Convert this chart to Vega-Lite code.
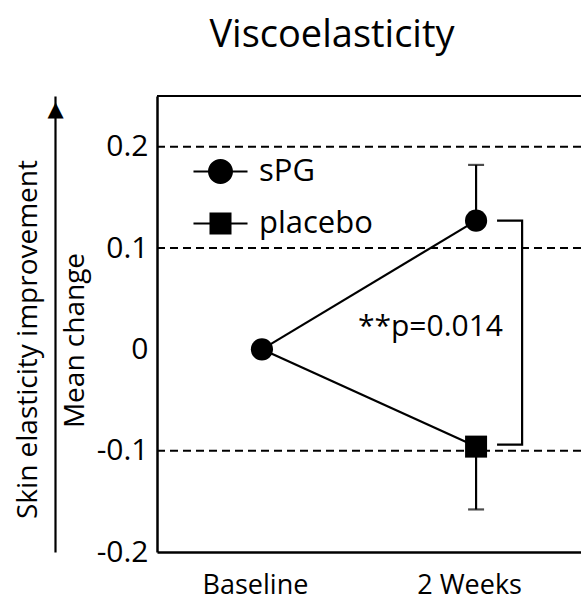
{
  "$schema": "https://vega.github.io/schema/vega-lite/v6.json",
  "width": 424,
  "height": 456,
  "autosize": {"type": "none"},
  "padding": {"left": 157, "top": 96, "right": 0, "bottom": 50},
  "config": {
    "view": {"stroke": null},
    "font": "Open Sans",
    "text": {"font": "Open Sans"}
  },
  "title": {
    "text": "Viscoelasticity",
    "font": "Open Sans",
    "fontSize": 38,
    "fontWeight": "normal",
    "color": "black",
    "anchor": "middle",
    "frame": "group",
    "baseline": "alphabetic",
    "offset": 8,
    "dx": -37
  },
  "resolve": {"scale": {"y": "independent"}, "axis": {"y": "independent"}},
  "layer": [
    {
      "data": {"values": [
        {"time": 0, "group": "sPG", "value": 0},
        {"time": 1, "group": "sPG", "value": 0.127, "err": 0.182},
        {"time": 0, "group": "placebo", "value": 0},
        {"time": 1, "group": "placebo", "value": -0.096, "err": -0.158}
      ]},
      "encoding": {
        "x": {
          "type": "quantitative",
          "scale": {"domain": [-0.49, 1.49], "nice": false, "zero": false},
          "axis": {
            "title": null,
            "values": [0, 1],
            "labelExpr": "datum.value == 0 ? 'Baseline' : '2 Weeks'",
            "labelFont": "Open Sans", "labelFontSize": 27, "labelColor": "black",
            "labelPadding": 41, "labelBaseline": "alphabetic", "labelOffset": -7, "labelFlush": false,
            "ticks": false, "tickSize": 0, "grid": false,
            "domain": true, "domainColor": "black", "domainWidth": 2.5
          }
        },
        "y": {
          "type": "quantitative",
          "scale": {"domain": [-0.2, 0.25], "nice": false, "zero": false},
          "axis": {
            "title": "Mean change",
            "titleFont": "Open Sans", "titleFontSize": 28, "titleFontWeight": "normal", "titleColor": "black",
            "titleAngle": 270, "titleAlign": "center", "titleBaseline": "middle",
            "titleX": -82, "titleY": 244,
            "values": [-0.2, -0.1, 0, 0.1, 0.2],
            "labelExpr": "datum.value == 0 ? '0' : (datum.value < 0 ? '-' : '') + format(abs(datum.value), '.1f')",
            "labelFont": "Open Sans", "labelFontSize": 30, "labelColor": "black",
            "labelPadding": 9, "labelBaseline": "middle", "labelFlush": false,
            "ticks": false, "tickSize": 0, "grid": false,
            "domain": true, "domainColor": "black", "domainWidth": 2.5,
            "orient": "left"
          }
        }
      },
      "layer": [
        {
          "data": {"values": [
            {"y": 0.2, "kind": "grid"},
            {"y": 0.1, "kind": "grid"},
            {"y": -0.1, "kind": "grid"},
            {"y": 0.25, "kind": "frame"}
          ]},
          "mark": {"type": "rule", "color": "black", "strokeWidth": 2},
          "encoding": {
            "x": null,
            "y": {"field": "y"},
            "strokeDash": {
              "field": "kind", "type": "nominal",
              "scale": {"domain": ["grid", "frame"], "range": [[8, 5], [1, 0]]},
              "legend": null
            }
          }
        },
        {
          "mark": {"type": "line", "color": "black", "strokeWidth": 2.2},
          "encoding": {
            "x": {"field": "time"},
            "y": {"field": "value"},
            "detail": {"field": "group"}
          }
        },
        {
          "transform": [{"filter": "isValid(datum.err)"}],
          "mark": {"type": "rule", "color": "black", "strokeWidth": 2.2},
          "encoding": {
            "x": {"field": "time"},
            "y": {"field": "value"},
            "y2": {"field": "err"}
          }
        },
        {
          "transform": [{"filter": "isValid(datum.err)"}],
          "mark": {"type": "tick", "color": "black", "orient": "horizontal", "size": 16, "thickness": 2.2},
          "encoding": {
            "x": {"field": "time"},
            "y": {"field": "err"}
          }
        },
        {
          "transform": [{"filter": "datum.group == 'sPG'"}],
          "mark": {"type": "point", "shape": "circle", "filled": true, "color": "black", "opacity": 1, "size": 491},
          "encoding": {
            "x": {"field": "time"},
            "y": {"field": "value"}
          }
        },
        {
          "transform": [{"filter": "datum.group == 'placebo' && datum.time == 1"}],
          "mark": {"type": "point", "shape": "square", "filled": true, "color": "black", "opacity": 1, "size": 484},
          "encoding": {
            "x": {"field": "time"},
            "y": {"field": "value"}
          }
        },
        {
          "transform": [{"filter": "datum.time == 1"}],
          "mark": {"type": "point", "filled": true, "color": "black", "opacity": 0, "size": 784},
          "encoding": {
            "x": {"field": "time"},
            "y": {"field": "value"},
            "shape": {
              "field": "group", "type": "nominal",
              "scale": {
                "domain": ["sPG", "placebo"],
                "range": [
                  "M-1.93,-0.0714L1.93,-0.0714L1.93,0.0714L-1.93,0.0714ZM0.893,0A0.893,0.893,0,1,1,-0.893,0A0.893,0.893,0,1,1,0.893,0Z",
                  "M-1.93,-0.0714L1.93,-0.0714L1.93,0.0714L-1.93,0.0714ZM-0.786,-0.786L0.786,-0.786L0.786,0.786L-0.786,0.786Z"
                ]
              },
              "legend": {
                "title": null,
                "orient": "none",
                "legendX": 48,
                "legendY": 60,
                "labelFont": "Open Sans", "labelFontSize": 31, "labelColor": "black",
                "labelOffset": 23,
                "rowPadding": 20,
                "symbolSize": 784,
                "symbolStrokeWidth": 0,
                "symbolFillColor": "black",
                "symbolOpacity": 1
              }
            }
          }
        },
        {
          "data": {"values": [
            {"bx": 1.098, "by": 0.127, "o": 1},
            {"bx": 1.215, "by": 0.127, "o": 2},
            {"bx": 1.215, "by": -0.094, "o": 3},
            {"bx": 1.098, "by": -0.094, "o": 4}
          ]},
          "mark": {"type": "line", "color": "black", "strokeWidth": 2.2},
          "encoding": {
            "x": {"field": "bx"},
            "y": {"field": "by"},
            "order": {"field": "o"}
          }
        },
        {
          "data": {"values": [{"tx": 0.787, "ty": 0.0128, "label": "**p=0.014"}]},
          "mark": {"type": "text", "font": "Open Sans", "fontSize": 30, "color": "black", "align": "center", "baseline": "alphabetic"},
          "encoding": {
            "x": {"field": "tx"},
            "y": {"field": "ty"},
            "text": {"field": "label"}
          }
        }
      ]
    },
    {
      "data": {"values": [{"a": 0}, {"a": 1}]},
      "mark": {"type": "point", "opacity": 0},
      "encoding": {
        "y": {
          "field": "a", "type": "quantitative",
          "scale": {"domain": [0, 1], "nice": false},
          "axis": {
            "orient": "left",
            "offset": 102,
            "title": "Skin elasticity improvement",
            "titleFont": "Open Sans", "titleFontSize": 28, "titleFontWeight": "normal", "titleColor": "black",
            "titleAngle": 270, "titleAlign": "center", "titleBaseline": "middle",
            "titleX": -27, "titleY": 243,
            "values": [1],
            "labelExpr": "'▲'",
            "labelFont": "DejaVu Sans", "labelFontSize": 21, "labelColor": "black",
            "labelAlign": "center", "labelBaseline": "top", "labelPadding": 0, "labelOffset": 2, "labelFlush": false,
            "ticks": false, "tickSize": 0, "grid": false,
            "domain": true, "domainColor": "black", "domainWidth": 2.2
          }
        }
      }
    }
  ]
}
